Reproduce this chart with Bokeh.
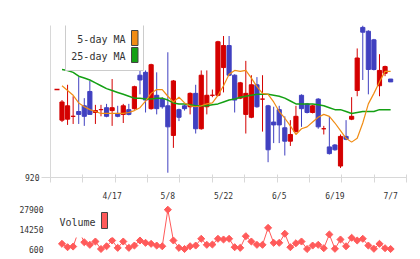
import numpy as np
from bokeh.plotting import figure
from bokeh.layouts import column
from bokeh.models import Range1d, FixedTicker, Label, BoxAnnotation, ColumnDataSource
from bokeh.embed import file_html
from bokeh.resources import INLINE

# ---- data ----
open_ = [950, 950.5, 952, 954.5, 957.5, 965, 954, 955.5, 956.5, 955,
         953.5, 953, 955.5, 956, 973.5, 975, 956, 963, 961, 957.5,
         942, 955.5, 957.5, 957, 964, 945.5, 957, 963, 963, 977.5,
         989, 973.5, 961.5, 953, 951.5, 968.5, 961, 957.5, 949, 955.5,
         946, 939, 944, 963, 958.5, 954, 961, 945.5, 936, 937,
         926, 941.5, 950.5, 965.5, 998.5, 996.5, 992, 968, 974.5, 971.5]
close = [959.5, 957.5, 952, 953, 952, 953, 955, 955.5, 952, 956.5,
         952, 957.5, 953, 967.5, 971, 960.5, 979, 956, 957, 946.5,
         970.5, 951.5, 956, 964, 945.5, 973.5, 963, 963, 991, 989,
         973.5, 960.5, 969.5, 964, 968.5, 957, 961, 934.5, 947.5, 947.5,
         939, 942.5, 952, 956, 954, 957.5, 946.5, 945.5, 932.5, 934.5,
         941.5, 940, 952, 982.5, 996, 976.5, 976.5, 976, 978, 970]
high = [960.5, 968.5, 962.5, 972.5, 961.5, 970.5, 958, 958, 958.5, 971.5,
        957.5, 958.5, 958.5, 968, 979, 976, 979.5, 975, 962, 985.5,
        971, 956, 958, 964.5, 968.5, 976, 976, 966, 991.5, 994,
        994, 974, 970, 981, 973.5, 972.5, 973.5, 958, 957, 957.5,
        952, 950, 957.5, 963.5, 959, 958, 961.5, 947, 952, 937.5,
        942.5, 950, 962, 987.5, 999.5, 997, 992.5, 984.5, 978.5, 971.5]
low = [949, 947.5, 948, 948, 947, 953, 948, 952, 951.5, 947,
       951.5, 948.5, 952.5, 955.5, 963.5, 954, 955.5, 953, 956, 922.5,
       935.5, 949.5, 955, 953, 943, 945, 953, 962, 962.5, 964.5,
       973, 954, 961, 943, 951, 956.5, 944, 928, 938, 938,
       931.5, 936.5, 943.5, 946.5, 953.5, 953.5, 945.5, 942.5, 932, 934,
       925, 939.5, 950, 962.5, 971, 963.5, 976, 962.5, 973, 970]
ma5 = [968, 965.5, 963, 959, 957, 955.5, 954.5, 953.5, 953.5, 953.5,
       953.5, 953.5, 954, 955, 956.5, 960, 964, 966, 966, 962.5,
       959.5, 962, 959, 957.5, 957, 957.5, 958.5, 959, 963, 968,
       974, 976, 975.5, 976, 972, 967.5, 964, 963.5, 959.5, 954.5,
       951, 947, 942.5, 945.5, 946.5, 949, 951.5, 953, 952, 948.5,
       944.5, 940.5, 938.5, 940.5, 948.5, 958.5, 964, 970, 975.5, 975.5]
ma25 = [976.5, 976, 975, 973, 972, 971, 969.5, 968, 966.5, 965.5,
        964.5, 963.5, 962.5, 961.5, 961.5, 961, 961, 961.5, 961.5, 960.5,
        959, 958.5, 958.5, 958, 957.5, 957.5, 957.5, 958, 958.5, 959.5,
        960.5, 961, 962, 962.5, 963, 963.5, 963.5, 963.5, 963, 962.5,
        961.5, 960, 958.5, 958.5, 958.5, 958.5, 958, 957.5, 956.5, 955.5,
        955.5, 954.5, 953.5, 954, 954.5, 954.5, 954.5, 955.5, 955.5, 955.5]
volume = [4200, 1850, 2300, 13400, 5300, 3500, 5800, 600, 2500, 6500,
          1400, 5800, 1400, 3000, 6500, 4900, 4200, 3000, 2500, 27900,
          6500, 1400, 600, 2500, 3000, 7700, 3500, 3700, 7700, 7200,
          7700, 1850, 1400, 9500, 5800, 3500, 3500, 15300, 4900, 4900,
          11200, 1850, 4600, 5800, 600, 3000, 3500, 1150, 10700, 740,
          7200, 2500, 8400, 6500, 7700, 3000, 740, 4200, 1150, 600]
date_label_index = [9, 19, 29, 39, 49, 59]
date_labels = ["4/17", "5/8", "5/22", "6/5", "6/19", "7/7"]
price_ticks = [920]
volume_ticks = [600, 14250, 27900]
marker_index = [-0.9]
marker_price = [966]

RED = "#d40000"
BLUE = "#4040c0"
ORANGE = "#f08c14"
GREEN = "#14a014"
VOLC = "#ff5a5a"
AXIS = "#d8d8d8"
TXT = "#333333"
MONO = "DejaVu Sans Mono"

idx = np.arange(len(open_))
colors = [RED if c >= o else BLUE for o, c in zip(open_, close)]
src = ColumnDataSource(dict(
    x=idx, top=np.maximum(open_, close), bottom=np.minimum(open_, close),
    high=high, low=low, color=colors, ma5=ma5, ma25=ma25, vol=volume))

xr = Range1d(-2.065, 61.85)

# ---- main price chart ----
p = figure(width=420, height=203, x_range=xr, y_range=Range1d(920, 999.5),
           output_backend="svg", toolbar_location=None,
           min_border_left=50, min_border_right=14, min_border_top=25, min_border_bottom=19)
p.outline_line_color = None
p.grid.visible = False
p.background_fill_color = "white"
p.border_fill_color = "white"

p.segment(x0="x", y0="low", x1="x", y1="high", source=src, line_color="color", line_width=1)
p.vbar(x="x", width=0.75, top="top", bottom="bottom", source=src,
       fill_color="color", line_color="color", line_width=1)
p.line("x", "ma25", source=src, line_color=GREEN, line_width=1.5)
p.line("x", "ma5", source=src, line_color=ORANGE, line_width=1.2)
p.scatter(x=marker_index, y=marker_price, marker="dash", size=5, line_color=RED, line_width=1.6)

xa = p.xaxis[0]
xa.ticker = FixedTicker(ticks=date_label_index,
                        minor_ticks=list(np.linspace(xr.start, xr.end, 12)))
xa.major_label_overrides = {i: s for i, s in zip(date_label_index, date_labels)}
xa.major_tick_line_color = None
xa.major_tick_in = 0
xa.major_tick_out = 0
xa.minor_tick_in = 3
xa.minor_tick_out = 5
xa.minor_tick_line_color = AXIS
xa.axis_line_color = AXIS
xa.major_label_standoff = 9
xa.major_label_text_font = MONO
xa.major_label_text_font_size = "8px"
xa.major_label_text_color = TXT

ya = p.yaxis[0]
ya.ticker = FixedTicker(ticks=price_ticks)
ya.major_tick_in = 0
ya.major_tick_out = 9
ya.major_tick_line_color = AXIS
ya.minor_tick_line_color = None
ya.axis_line_color = AXIS
ya.major_label_standoff = 2
ya.major_label_text_font = MONO
ya.major_label_text_font_size = "8px"
ya.major_label_text_color = TXT

# header texts
p.add_layout(Label(x=-43, y=172, x_units="screen", y_units="screen",
                   text="9359 07/07 16:57 updated.", text_font=MONO,
                   text_font_size="10px", text_color=TXT, text_baseline="middle"))
p.add_layout(Label(x=360, y=172, x_units="screen", y_units="screen",
                   text="(C)https://www.rizumu.net/", text_font=MONO,
                   text_font_size="10px", text_color=TXT, text_baseline="middle",
                   text_align="right"))

# MA legend
p.add_layout(BoxAnnotation(left=15, right=93, top=154, bottom=107,
                           left_units="screen", right_units="screen",
                           top_units="screen", bottom_units="screen",
                           fill_color="white", fill_alpha=1.0,
                           line_color="#cccccc", line_width=1, line_alpha=1.0))
p.add_layout(BoxAnnotation(left=81, right=87.5, top=147, bottom=132,
                           left_units="screen", right_units="screen",
                           top_units="screen", bottom_units="screen",
                           fill_color=ORANGE, fill_alpha=1.0,
                           line_color="#444444", line_width=1, line_alpha=1.0))
p.add_layout(BoxAnnotation(left=81, right=87.5, top=130, bottom=115,
                           left_units="screen", right_units="screen",
                           top_units="screen", bottom_units="screen",
                           fill_color=GREEN, fill_alpha=1.0,
                           line_color="#444444", line_width=1, line_alpha=1.0))
p.add_layout(Label(x=75, y=138, x_units="screen", y_units="screen",
                   text="5-day MA", text_font=MONO, text_font_size="10px",
                   text_color=TXT, text_baseline="middle", text_align="right"))
p.add_layout(Label(x=75, y=121, x_units="screen", y_units="screen",
                   text="25-day MA", text_font=MONO, text_font_size="10px",
                   text_color=TXT, text_baseline="middle", text_align="right"))

# ---- volume chart ----
pv = figure(width=420, height=56, x_range=xr, y_range=Range1d(-3917, 30832),
            output_backend="svg", toolbar_location=None, x_axis_location=None,
            min_border_left=50, min_border_right=14, min_border_top=2, min_border_bottom=4)
pv.outline_line_color = None
pv.grid.visible = False
pv.line("x", "vol", source=src, line_color=VOLC, line_width=1)
pv.scatter("x", "vol", source=src, marker="square", angle=np.pi / 4, size=5,
           fill_color=VOLC, line_color=VOLC)

va = pv.yaxis[0]
va.ticker = FixedTicker(ticks=volume_ticks)
va.axis_line_color = None
va.major_tick_line_color = None
va.minor_tick_line_color = None
va.major_tick_out = 0
va.major_tick_in = 0
va.major_label_standoff = 7
va.major_label_text_font = MONO
va.major_label_text_font_size = "8px"
va.major_label_text_color = TXT

pv.add_layout(BoxAnnotation(left=5, right=62, top=50, bottom=18,
                            left_units="screen", right_units="screen",
                            top_units="screen", bottom_units="screen",
                            fill_color="white", fill_alpha=1.0, line_color=None))
pv.add_layout(BoxAnnotation(left=51, right=57, top=43, bottom=27,
                            left_units="screen", right_units="screen",
                            top_units="screen", bottom_units="screen",
                            fill_color=VOLC, fill_alpha=1.0,
                            line_color="#444444", line_width=1, line_alpha=1.0))
pv.add_layout(Label(x=9, y=33, x_units="screen", y_units="screen",
                    text="Volume", text_font=MONO, text_font_size="10px",
                    text_color=TXT, text_baseline="middle"))

layout = column(p, pv, spacing=0)
open("out.html", "w").write(file_html(layout, INLINE))
